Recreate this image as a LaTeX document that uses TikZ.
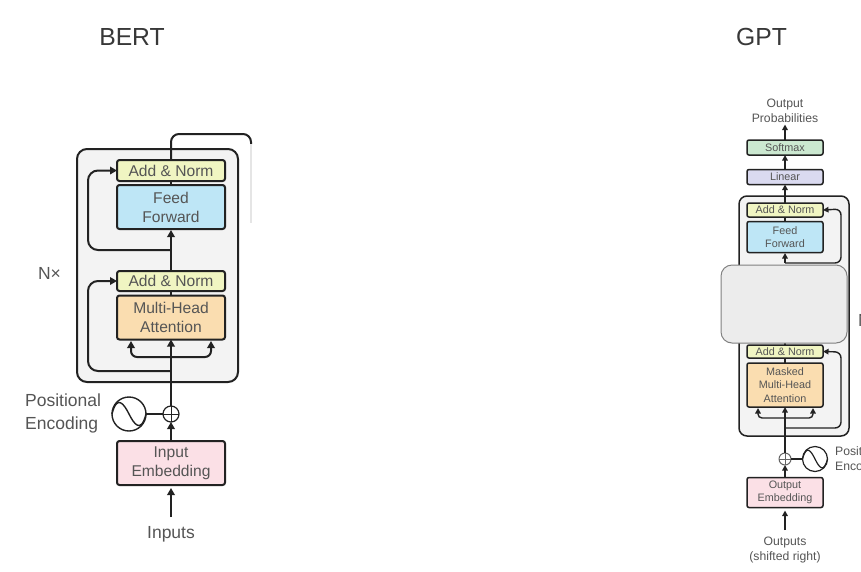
\documentclass[tikz,border=0pt]{standalone}
\usepackage{fontspec}
\setmainfont{Liberation Sans}
\usetikzlibrary{arrows.meta,calc}
\definecolor{txt}{HTML}{555555}
\definecolor{ink}{HTML}{222222}
\definecolor{cAdd}{HTML}{F0F5C2}
\definecolor{cFF}{HTML}{BEE6F6}
\definecolor{cMHA}{HTML}{FADDB0}
\definecolor{cEmb}{HTML}{FBE0E6}
\definecolor{cSoft}{HTML}{CBE8D0}
\definecolor{cLin}{HTML}{DADAF0}
\definecolor{cBlock}{HTML}{F3F3F3}
\tikzset{
  big/.style={font=\fontsize{15.6}{19}\selectfont,text=txt,align=center},
  small/.style={font=\fontsize{10.8}{13.5}\selectfont,text=txt,align=center},
  wbox/.style={big,draw=ink,line width=2pt,rounded corners=2.5pt,minimum width=108pt,inner sep=0pt,outer sep=0pt},
  gbox/.style={small,draw=ink,line width=1.5pt,rounded corners=2pt,minimum width=76pt,inner sep=0pt,outer sep=0pt},
  lblA/.style={font=\fontsize{17.5}{23}\selectfont,text=txt,inner sep=0pt},
  lblB/.style={font=\fontsize{12.2}{15}\selectfont,text=txt,align=center,inner sep=0pt},
  title/.style={font=\fontsize{24.7}{28}\selectfont,text=ink!90},
  wline/.style={draw=ink,line width=2pt},
  gline/.style={draw=ink,line width=1.4pt},
  warr/.style={wline,-{Triangle[length=7pt,width=7.5pt]}},
  garr/.style={gline,-{Triangle[length=5.5pt,width=5.5pt]}},
}
\begin{document}
\begin{tikzpicture}[x=1pt,y=-1pt]
\useasboundingbox (0,0) rectangle (861,571);
\clip (0,0) rectangle (861,571);
\fill[white] (0,0) rectangle (861,571);
% titles
\node[title,anchor=center] (tB) at (132,37) {BERT};
\node[title,anchor=center] (tG) at (761.5,37) {GPT};
% BERT block
\node[draw=ink,line width=2pt,fill=cBlock,rounded corners=10pt,minimum width=161pt,minimum height=233pt,inner sep=0pt,outer sep=0pt] (blockB) at (157.5,265.5) {};
\node[wbox,fill=cAdd,minimum height=21pt] (an1) at (171,170.5) {Add \& Norm};
\node[wbox,fill=cFF,minimum height=44pt] (ff1) at (171,207) {Feed\\Forward};
\node[wbox,fill=cAdd,minimum height=20pt] (an2) at (171,281) {Add \& Norm};
\node[wbox,fill=cMHA,minimum height=44pt] (mha) at (171,317.5) {Multi-Head\\Attention};
\node[wbox,fill=cEmb,minimum height=44pt] (emb1) at (171,463) {Input\\Embedding};
\node[draw=ink,line width=1.2pt,circle,minimum size=16pt,inner sep=0pt,outer sep=0pt] (plus1) at (171,414) {};
\node[draw=ink,line width=1.4pt,circle,minimum size=34pt,inner sep=0pt,outer sep=0pt] (sin1) at (129,414) {};
\node[lblA,anchor=west,align=left] (pe1) at (25,413.5) {Positional\\Encoding};
\node[lblA,anchor=center] (nx1) at (49.5,273) {N×};
\node[font=\fontsize{17.5}{21}\selectfont,text=txt] (inp) at (171,534.5) {Inputs};
\coordinate (inpS) at (171,517);
\coordinate (tap1) at (171,250);
\coordinate (tap2) at (171,371);
\coordinate (outTop) at (251,144);
\coordinate (fadeEnd) at (251,223);
% BERT connectors
\draw[warr] (inpS) -- ($(emb1.south)+(0,3)$);
\draw[warr] (emb1.north) -- (plus1.south);
\draw[wline] (plus1.north) -- (tap2);
\draw[warr] (tap2) -- (mha.south);
\draw[warr,rounded corners=10pt] (tap2) -- (88,371) -- (88,281) -- (an2.west);
\draw[warr,rounded corners=6pt] ($(tap2)+(0,-14)$) -- (131,357) -- (131,341);
\draw[warr,rounded corners=6pt] ($(tap2)+(0,-14)$) -- (211,357) -- (211,341);
\draw[wline] (mha.north) -- (an2.south);
\draw[warr] (an2.north) -- ($(ff1.south)+(0,1)$);
\draw[warr,rounded corners=10pt] (tap1) -- (88,250) -- (88,170.5) -- (an1.west);
\draw[wline] (ff1.north) -- (an1.south);
\draw[wline,rounded corners=8pt] (an1.north) -- (171,134) -- (251,134) -- (outTop);
\draw[draw=black!10,line width=1.2pt] (outTop) -- (fadeEnd);
\draw[line width=1.4pt,draw=ink] (plus1.west) -- (sin1.east);
\draw[line width=1pt,draw=ink] (plus1.north) -- (plus1.south) (plus1.west) -- (plus1.east);
\draw[line width=1.4pt,draw=ink] (sin1.west) .. controls +(5,-20) and +(-5,-10) .. (sin1.center) .. controls +(5,10) and +(-5,20) .. (sin1.east);
% GPT block
\node[draw=ink,line width=1.5pt,fill=cBlock,rounded corners=8pt,minimum width=110pt,minimum height=240pt,inner sep=0pt,outer sep=0pt] (blockG) at (794,316) {};
\node[lblB] (op) at (785,110.5) {Output\\Probabilities};
\node[gbox,fill=cSoft,minimum height=15pt] (soft) at (785,147.5) {Softmax};
\node[gbox,fill=cLin,minimum height=15pt] (lin) at (785,177) {Linear};
\node[gbox,fill=cAdd,minimum height=14pt] (an3) at (785,210) {Add \& Norm};
\node[gbox,fill=cFF,minimum height=31pt] (ff2) at (785,237) {Feed\\Forward};
\node[gbox,fill=cAdd,minimum height=13pt] (an4) at (785,351.5) {Add \& Norm};
\node[gbox,fill=cMHA,minimum height=44pt] (mmha) at (785,385) {Masked\\Multi-Head\\Attention};
\node[gbox,fill=cEmb,minimum height=30pt] (emb2) at (785,492.5) {Output\\Embedding};
\node[draw=ink!70,line width=1pt,circle,minimum size=12pt,inner sep=0pt,outer sep=0pt] (plus2) at (785,459) {};
\node[draw=ink,line width=1.2pt,circle,minimum size=25pt,inner sep=0pt,outer sep=0pt] (sin2) at (815,459) {};
\node[lblB,anchor=west,align=left] (pe2) at (835,459.5) {Positional\\Encoding};
\node[lblB] (outs) at (785,549.5) {Outputs\\(shifted right)};
\node[lblA,anchor=west] (nx2) at (858,320) {N×};
\coordinate (outS) at (785,530);
\coordinate (tap3) at (785,263);
\coordinate (tap4) at (785,428);
% GPT connectors
\draw[garr] (outS) -- ($(emb2.south)+(0,3)$);
\draw[garr] (emb2.north) -- (plus2.south);
\draw[gline] (plus2.north) -- (tap4);
\draw[garr] (tap4) -- (mmha.south);
\draw[garr,rounded corners=6pt] (tap4) -- (841,428) -- (841,352) -- (an4.east);
\draw[garr,rounded corners=4pt] ($(tap4)+(0,-10)$) -- (758,418) -- (758,408);
\draw[garr,rounded corners=4pt] ($(tap4)+(0,-10)$) -- (813,418) -- (813,408);
\draw[gline] (mmha.north) -- (an4.south);
\draw[gline] (an4.north) -- (785,343);
\draw[garr] (tap3) -- ($(ff2.south)+(0,0.5)$);
\draw[garr,rounded corners=6pt] (tap3) -- (841,263) -- (841,209) -- (an3.east);
\draw[gline] (ff2.north) -- (an3.south);
\draw[garr] (an3.north) -- (lin.south);
\draw[garr] (lin.north) -- (soft.south);
\draw[garr] (soft.north) -- ($(op.south)+(0,2)$);
\draw[line width=1.2pt,draw=ink] (plus2.east) -- (sin2.west);
\draw[line width=.8pt,draw=ink!70] (plus2.north) -- (plus2.south) (plus2.west) -- (plus2.east);
\draw[line width=1.2pt,draw=ink] (sin2.west) .. controls +(4,-15) and +(-4,-8) .. (sin2.center) .. controls +(4,8) and +(-4,15) .. (sin2.east);
% grey cover panel
\node[draw=black!50,line width=1pt,fill=black!7.5,rounded corners=11pt,minimum width=126pt,minimum height=78pt,inner sep=0pt,outer sep=0pt] (panel) at (784,304) {};
\end{tikzpicture}
\end{document}
